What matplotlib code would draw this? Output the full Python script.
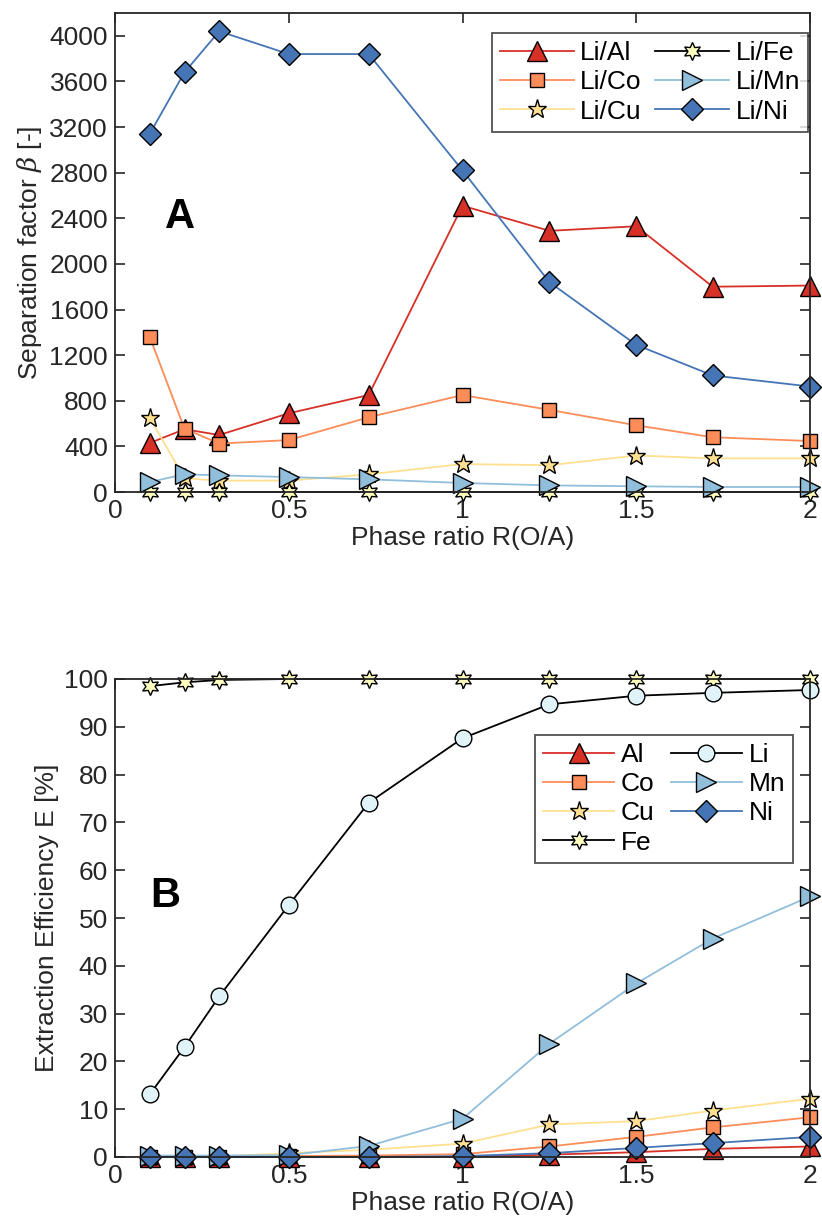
import numpy as np
import matplotlib
matplotlib.use('Agg')
import matplotlib.pyplot as plt

plt.rcParams['font.family'] = ['Liberation Sans', 'DejaVu Sans']
plt.rcParams['mathtext.fontset'] = 'dejavuserif'

# phase ratio O/A
ratio = [0.1, 0.2, 0.3, 0.5, 0.73, 1.0, 1.25, 1.5, 1.72, 2.0]

# panel A - separation factors
sep_al = [430, 550, 500, 690, 850, 2510, 2290, 2330, 1800, 1810]
sep_co = [1360, 555, 425, 455, 655, 850, 720, 585, 480, 447]
sep_cu = [650, 120, 100, 100, 155, 245, 235, 320, 295, 295]
sep_fe = [0, 0, 0, 0, 0, 0, 0, 0, 0, 0]
sep_mn = [88, 155, 146, 131, 111, 79, 58, 50, 44, 44]
sep_ni = [3140, 3680, 4040, 3840, 3840, 2820, 1840, 1290, 1022, 925]

# panel B - extraction efficiency
ext_al = [0, 0, 0, 0, 0, 0, 0.5, 1.0, 1.7, 2.2]
ext_co = [0, 0, 0, 0.2, 0.3, 0.6, 2.2, 4.2, 6.2, 8.3]
ext_cu = [0, 0, 0.1, 0.8, 1.5, 2.8, 6.8, 7.5, 9.7, 12.2]
ext_fe = [98.5, 99.3, 99.8, 100, 100, 100, 100, 100, 100, 100]
ext_li = [13.1, 23.0, 33.6, 52.7, 74.1, 87.6, 94.7, 96.5, 97.1, 97.7]
ext_mn = [0.3, 0.3, 0.3, 0.4, 2.3, 8.0, 23.7, 36.3, 45.7, 54.5]
ext_ni = [0, 0, 0, 0, 0, 0.2, 0.8, 1.9, 2.9, 4.2]

# RdYlBu colours (MATLAB-like style)
c_al = '#d73027'
c_co = '#fc8d59'
c_cu = '#fee090'
c_fe = '#ffffbf'
c_li = '#e0f3f8'
c_mn = '#91bfdb'
c_ni = '#4575b4'
txt = '#262626'
fs = 19

hexagram = (6, 1, 0)

def style(name):
    # line colour, marker, marker face, marker size
    return {
        'Al': dict(color=c_al, marker='^', mfc=c_al, ms=14),
        'Co': dict(color=c_co, marker='s', mfc=c_co, ms=10),
        'Cu': dict(color=c_cu, marker='*', mfc=c_cu, ms=14),
        'Fe': dict(color='black', marker=hexagram, mfc=c_fe, ms=13),
        'Li': dict(color='black', marker='o', mfc=c_li, ms=12),
        'Mn': dict(color=c_mn, marker='>', mfc=c_mn, ms=14),
        'Ni': dict(color=c_ni, marker='D', mfc=c_ni, ms=11),
    }[name]

fig = plt.figure(figsize=(8.22, 12.32), dpi=100)
W, H = 822, 1232
axA = fig.add_axes([115 / W, 1 - 492 / H, (810 - 115) / W, (492 - 13) / H])
axB = fig.add_axes([115 / W, 1 - 1157 / H, (810 - 115) / W, (1157 - 679) / H])

def plot_series(ax, y, name, label):
    s = style(name)
    ax.plot(ratio, y, color=s['color'], lw=1.3, marker=s['marker'], mfc=s['mfc'],
            mec='black', mew=1.0, ms=s['ms'], label=label, clip_on=False)

for y, n in [(sep_al, 'Al'), (sep_co, 'Co'), (sep_cu, 'Cu'),
             (sep_fe, 'Fe'), (sep_mn, 'Mn'), (sep_ni, 'Ni')]:
    plot_series(axA, y, n, 'Li/' + n)

for y, n in [(ext_al, 'Al'), (ext_co, 'Co'), (ext_cu, 'Cu'), (ext_fe, 'Fe'),
             (ext_li, 'Li'), (ext_mn, 'Mn'), (ext_ni, 'Ni')]:
    plot_series(axB, y, n, n)

for ax in (axA, axB):
    ax.set_xlim(0, 2)
    ax.set_xticks([0, 0.5, 1, 1.5, 2])
    ax.set_xticklabels(['0', '0.5', '1', '1.5', '2'])
    ax.tick_params(direction='in', length=7, width=1.2, top=True, right=True,
                   labelsize=fs, colors=txt, pad=5)
    for sp in ax.spines.values():
        sp.set_linewidth(1.3)
        sp.set_color(txt)
    ax.set_xlabel('Phase ratio R(O/A)', fontsize=fs, color=txt, labelpad=2)

axA.set_ylim(0, 4200)
axA.set_yticks(np.arange(0, 4001, 400))
axA.set_ylabel(r'Separation factor $\beta$ [-]', fontsize=fs, color=txt, labelpad=4)
axA.text(0.187, 2408, 'A', fontsize=30, fontweight='bold', ha='center', va='center')

axB.set_ylim(0, 100)
axB.set_yticks(np.arange(0, 101, 10))
axB.set_ylabel('Extraction Efficiency E [%]', fontsize=fs, color=txt, labelpad=4)
axB.text(0.144, 54.7, 'B', fontsize=30, fontweight='bold', ha='center', va='center')

legA = axA.legend(ncol=2, loc='upper right', bbox_to_anchor=(0.997, 0.958),
                  fontsize=fs, frameon=True, fancybox=False, edgecolor=txt,
                  handlelength=2.8, columnspacing=0.5, handletextpad=0.25,
                  labelspacing=0.2, borderpad=0.3, borderaxespad=0)
legA.get_frame().set_linewidth(1.3)

legB = axB.legend(ncol=2, loc='upper right', bbox_to_anchor=(0.9755, 0.883),
                  fontsize=fs, frameon=True, fancybox=False, edgecolor=txt,
                  handlelength=2.7, columnspacing=0.6, handletextpad=0.25,
                  labelspacing=0.2, borderpad=0.3, borderaxespad=0)
legB.get_frame().set_linewidth(1.3)

fig.savefig('out.png', dpi=100)
